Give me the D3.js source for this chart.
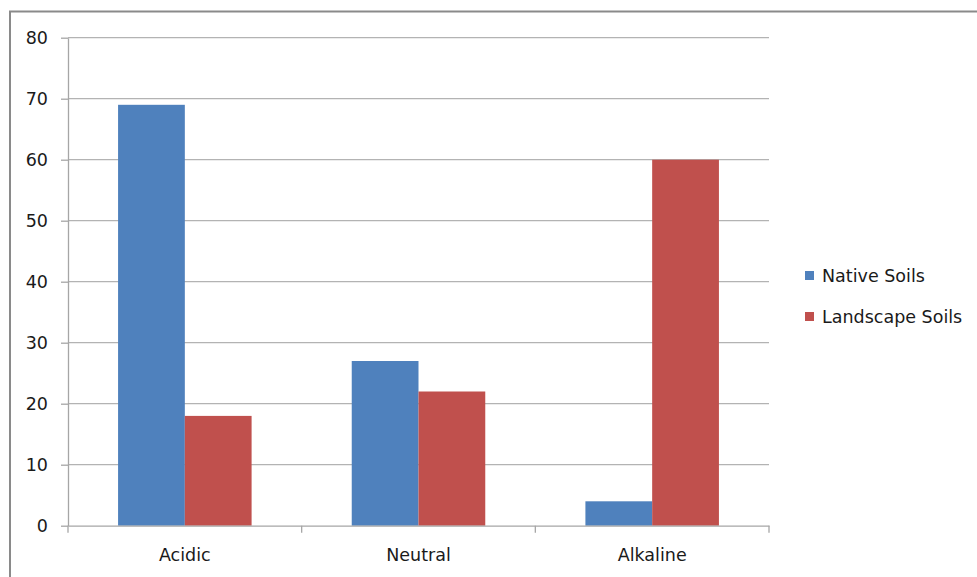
<!DOCTYPE html>
<html>
<head>
<meta charset="utf-8">
<script src="https://cdn.jsdelivr.net/npm/d3@7"></script>
<style>
  html, body { margin: 0; padding: 0; background: #fff; }
  svg { display: block; }
  text { font-family: "DejaVu Sans", sans-serif; fill: #1a1a1a; }
</style>
</head>
<body>
<svg id="chart" width="977" height="577"></svg>
<script>
// Soil pH distribution: native vs landscape soils
const categories = ["Acidic", "Neutral", "Alkaline"];
const seriesNames = ["Native Soils", "Landscape Soils"];
const nativeSoils = [69, 27, 4];
const landscapeSoils = [18, 22, 60];
const yTicks = [0, 10, 20, 30, 40, 50, 60, 70, 80];
const colors = ["#4f81bd", "#c0504d"];

const FONT = "'DejaVu Sans', sans-serif";
const FS = 17.5;

const svg = d3.select("#chart");
const plot = { left: 68, right: 769, top: 37.7, bottom: 525.7 };

// outer frame (top and left edges)
svg.append("path")
  .attr("d", `M10,577 V11.5 H977`)
  .attr("fill", "none")
  .attr("stroke", "#8a8a8a")
  .attr("stroke-width", 2);

const x0 = d3.scaleBand().domain(categories)
  .range([plot.left, plot.right]).paddingInner(0).paddingOuter(0);
const groupW = x0.bandwidth() * 2 / 3.5;
const x1 = d3.scaleBand().domain(seriesNames).range([0, groupW]);
const y = d3.scaleLinear().domain([0, 80]).range([plot.bottom, plot.top]);

// horizontal gridlines
svg.append("g").selectAll("line").data(yTicks.filter(d => d > 0)).join("line")
  .attr("x1", plot.left).attr("x2", plot.right)
  .attr("y1", d => y(d)).attr("y2", d => y(d))
  .attr("stroke", "#b3b3b3").attr("stroke-width", 1.3);

// y axis
const yAxis = svg.append("g").attr("transform", `translate(${plot.left},0)`)
  .call(d3.axisLeft(y).tickValues(yTicks).tickSize(7).tickPadding(13).tickSizeOuter(0));
yAxis.select(".domain").attr("stroke", "#a6a6a6").attr("stroke-width", 1.3);
yAxis.selectAll(".tick line").attr("stroke", "#a6a6a6").attr("stroke-width", 1.3);
yAxis.selectAll("text").attr("font-size", FS).attr("fill", "#1a1a1a")
  .style("font-family", FONT);

// bars
const rows = categories.map((c, i) => ({ cat: c, vals: [nativeSoils[i], landscapeSoils[i]] }));
const groups = svg.append("g").selectAll("g").data(rows).join("g")
  .attr("transform", d => `translate(${x0(d.cat) + (x0.bandwidth() - groupW) / 2},0)`);
groups.selectAll("rect").data(d => d.vals.map((v, j) => ({ v, s: seriesNames[j], j })))
  .join("rect")
  .attr("x", d => x1(d.s)).attr("width", x1.bandwidth())
  .attr("y", d => y(d.v)).attr("height", d => y(0) - y(d.v))
  .attr("fill", d => colors[d.j]);

// x axis
const xAxis = svg.append("g").attr("transform", `translate(0,${plot.bottom})`)
  .call(d3.axisBottom(x0).tickSize(0).tickPadding(23));
xAxis.select(".domain").attr("stroke", "#a6a6a6").attr("stroke-width", 1.3);
xAxis.selectAll("text").attr("font-size", FS).attr("fill", "#1a1a1a")
  .style("font-family", FONT);
// category separator ticks
svg.append("g").selectAll("line")
  .data([...categories.map(c => x0(c)), plot.right]).join("line")
  .attr("x1", d => d).attr("x2", d => d)
  .attr("y1", plot.bottom).attr("y2", plot.bottom + 7)
  .attr("stroke", "#a6a6a6").attr("stroke-width", 1.3);

// legend
const legend = svg.append("g").attr("transform", "translate(805,0)");
const legendY = [276, 317];
seriesNames.forEach((name, i) => {
  legend.append("rect").attr("x", 0).attr("y", legendY[i] - 5)
    .attr("width", 9).attr("height", 9).attr("fill", colors[i]);
  legend.append("text").attr("x", 17).attr("y", legendY[i]).attr("dy", "0.35em")
    .attr("font-size", FS).style("font-family", FONT).text(name);
});
</script>
</body>
</html>
